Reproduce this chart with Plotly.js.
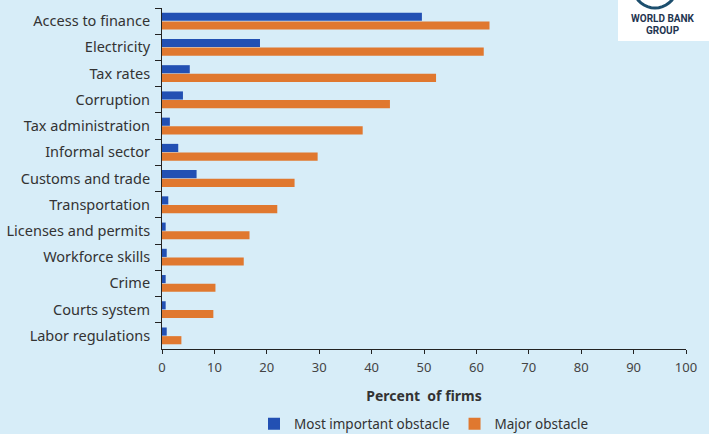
<!DOCTYPE html>
<html>
<head>
<meta charset="utf-8">
<script src="https://cdn.plot.ly/plotly-3.0.1.min.js"></script>
<style>html,body{margin:0;padding:0;background:#d7edf8;}#chart{width:709px;height:434px;}</style>
</head>
<body>
<div id="chart"></div>
<script>
const categories = ["Access to finance","Electricity","Tax rates","Corruption","Tax administration","Informal sector","Customs and trade","Transportation","Licenses and permits","Workforce skills","Crime","Courts system","Labor regulations"];
const mostImportant = [49.6, 18.7, 5.3, 4.0, 1.5, 3.1, 6.6, 1.2, 0.7, 0.9, 0.7, 0.7, 0.9];
const majorObstacle = [62.5, 61.4, 52.3, 43.5, 38.3, 29.7, 25.3, 22.0, 16.7, 15.6, 10.2, 9.8, 3.7];
const xTicks = [0,10,20,30,40,50,60,70,80,90,100];

const W = 709, H = 434, L = 162, R = 23, T = 8, B = 85;
const pw = W - L - R, ph = H - T - B;
const px = x => (x - L) / pw;
const py = y => (H - B - y) / ph;

const traces = [
  {type:'bar', orientation:'h', name:'Most important obstacle', y:categories, x:mostImportant,
   marker:{color:'#2250b3'}, hoverinfo:'x+y'},
  {type:'bar', orientation:'h', name:'Major obstacle', y:categories, x:majorObstacle,
   marker:{color:'#e0782f'}, hoverinfo:'x+y'}
];

function globePath() {
  const cx = 655, cy = -14, r = 22;
  const pts = [];
  for (let a = 20; a <= 160; a += 10) {
    const rad = a * Math.PI / 180;
    pts.push([cx + r * Math.cos(rad), cy + r * Math.sin(rad)]);
  }
  return 'M ' + pts.map(p => px(p[0]).toFixed(4) + ',' + py(p[1]).toFixed(4)).join(' L ');
}

const layout = {
  width: W, height: H,
  margin: {l: L, r: R, t: T, b: B, pad: 0, autoexpand: false},
  paper_bgcolor: '#d7edf8',
  plot_bgcolor: '#d7edf8',
  font: {family: '"Noto Sans", sans-serif', size: 14, color: '#333333'},
  barmode: 'group',
  bargap: 0.34,
  bargroupgap: 0.06,
  showlegend: true,
  legend: {orientation: 'h', x: 0.5, xanchor: 'center', y: py(424), yanchor: 'middle',
           font: {size: 13.5, color: '#333333'}, bgcolor: 'rgba(0,0,0,0)', itemwidth: 30},
  xaxis: {
    range: [0, 100], tickvals: xTicks, ticktext: xTicks.map(String),
    showgrid: false, zeroline: false, showline: true, linecolor: '#222222', linewidth: 1,
    ticks: 'outside', ticklen: 4, tickcolor: '#222222', automargin: false,
    tickfont: {size: 13, color: '#444444'}, ticklabelstandoff: 2,
    title: {text: '<b>Percent  of firms</b>', font: {size: 14, color: '#333333'}, standoff: 16},
    fixedrange: true
  },
  yaxis: {
    autorange: 'reversed', type: 'category', automargin: false,
    showgrid: false, zeroline: false, showline: true, linecolor: '#222222', linewidth: 1,
    ticks: 'outside', tickson: 'boundaries', ticklen: 6, tickcolor: '#222222',
    tickfont: {size: 14.5, color: '#333333'}, ticklabelstandoff: 8,
    fixedrange: true
  },
  shapes: [
    {type: 'rect', xref: 'paper', yref: 'paper', x0: px(618), x1: px(712), y0: py(41), y1: py(-3),
     fillcolor: '#ffffff', line: {width: 0}, layer: 'above'},
    {type: 'path', xref: 'paper', yref: 'paper', path: globePath(), line: {color: '#1d4f6e', width: 3}, layer: 'above'}
  ],
  annotations: [
    {xref: 'paper', yref: 'paper', x: px(663), y: py(19), text: '<b>WORLD BANK</b>', showarrow: false,
     font: {family: '"Liberation Sans Narrow", "Roboto", sans-serif', size: 10, color: '#1f3550'}, xanchor: 'center', yanchor: 'middle'},
    {xref: 'paper', yref: 'paper', x: px(663), y: py(30), text: '<b>GROUP</b>', showarrow: false,
     font: {family: '"Liberation Sans Narrow", "Roboto", sans-serif', size: 10, color: '#1f3550'}, xanchor: 'center', yanchor: 'middle'}
  ]
};

Plotly.newPlot('chart', traces, layout, {displayModeBar: false, staticPlot: true});
</script>
</body>
</html>
